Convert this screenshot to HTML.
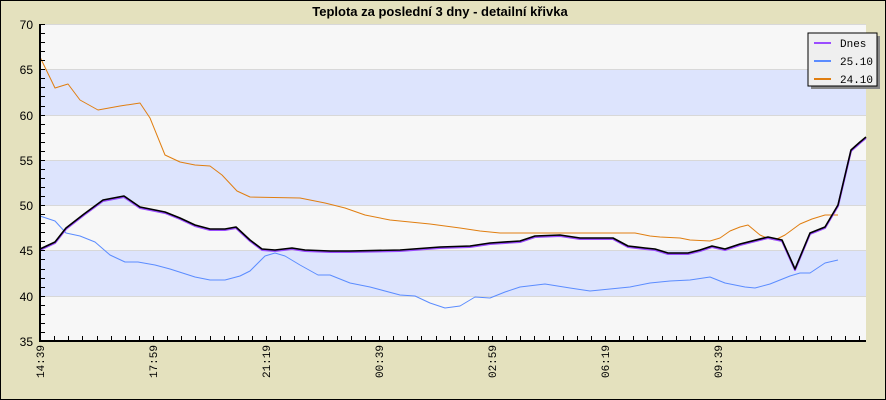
<!DOCTYPE html>
<html><head><meta charset="utf-8"><style>body{margin:0}svg{display:block}</style></head><body>
<svg width="886" height="400" xmlns="http://www.w3.org/2000/svg" font-family="Liberation Sans, DejaVu Sans, sans-serif">
<rect x="0.5" y="0.5" width="885" height="399" fill="#e4e1be" stroke="#000"/>
<text x="440" y="16" text-anchor="middle" font-size="13" font-weight="bold">Teplota za poslední 3 dny - detailní křivka</text>
<rect x="40" y="24" width="826" height="317" fill="#f7f7f7"/>
<rect x="40" y="69" width="826" height="46" fill="#dde4fd"/>
<rect x="40" y="160" width="826" height="45" fill="#dde4fd"/>
<rect x="40" y="251" width="826" height="45" fill="#dde4fd"/>
<g stroke="#d8d8d8" stroke-width="1">
<line x1="40" x2="866" y1="69.5" y2="69.5"/><line x1="40" x2="866" y1="115.5" y2="115.5"/><line x1="40" x2="866" y1="160.5" y2="160.5"/><line x1="40" x2="866" y1="205.5" y2="205.5"/><line x1="40" x2="866" y1="250.5" y2="250.5"/><line x1="40" x2="866" y1="296.5" y2="296.5"/><line x1="40" x2="866" y1="24.5" y2="24.5"/>
</g>
<g fill="none" stroke-linejoin="round">
<polyline stroke="#e07e10" stroke-width="1" points="40,57 55,88 68,84 80,100 98,110 120,106 140,103 150,118 165,155 180,162 195,165 210,166 222,175 237,191 250,197 300,198 325,203 345,208 365,215 390,220 430,224 460,228 480,231 500,233 540,233 600,233 635,233 650,236 660,237 680,238 690,240 710,241 720,238 730,231 740,227 748,225 760,235 767,238 775,240 785,235 800,224 812,219 825,215 838,215"/>
<polyline stroke="#5b8cff" stroke-width="1" points="40,216 55,221 66,233 80,236 95,242 110,255 125,262 138,262 155,265 170,269 195,277 210,280 225,280 240,276 250,271 265,256 275,253 285,256 300,265 318,275 330,275 350,283 370,287 400,295 415,296 430,303 445,308 460,306 475,297 490,298 505,292 520,287 545,284 570,288 590,291 610,289 630,287 650,283 670,281 690,280 710,277 725,283 745,287 755,288 770,284 790,276 800,273 810,273 825,263 838,260"/>
<g id="d">
<polyline stroke="#9b4dff" stroke-width="2" transform="translate(0,1)" points="40,249 55,242 66,228 84,214 103,200 124,196 140,207 150,209 165,212 180,218 195,225 210,229 225,229 236,227 250,240 262,249 275,250 292,248 305,250 330,251 350,251 400,250 440,247 470,246 490,243 520,241 535,236 560,235 580,238 600,238 613,238 628,246 645,248 655,249 668,253 688,253 700,250 712,246 725,249 740,244 768,237 782,240 795,269 810,233 825,227 838,205 851,150 860,142 866,137"/>
<polyline stroke="#000" stroke-width="1.6" points="40,249 55,242 66,228 84,214 103,200 124,196 140,207 150,209 165,212 180,218 195,225 210,229 225,229 236,227 250,240 262,249 275,250 292,248 305,250 330,251 350,251 400,250 440,247 470,246 490,243 520,241 535,236 560,235 580,238 600,238 613,238 628,246 645,248 655,249 668,253 688,253 700,250 712,246 725,249 740,244 768,237 782,240 795,269 810,233 825,227 838,205 851,150 860,142 866,137"/>
</g>
</g>
<g stroke="#000">
<line x1="40" y1="24" x2="40" y2="342" stroke-width="2"/>
<line x1="39" y1="341" x2="866" y2="341" stroke-width="2"/>
</g>
<g id="yt" stroke="#000" stroke-width="1"></g>
<g id="xt" stroke="#000" stroke-width="1"></g>
<g font-size="12" text-anchor="end" fill="#000">
<text x="33" y="29">70</text><text x="33" y="74">65</text><text x="33" y="120">60</text><text x="33" y="165">55</text><text x="33" y="210">50</text><text x="33" y="255">45</text><text x="33" y="301">40</text><text x="33" y="346">35</text>
</g>
<g font-size="11" font-family="Liberation Mono, DejaVu Sans Mono, monospace" text-anchor="end" fill="#000">
<text transform="translate(44,345) rotate(-90)">14:39</text>
<text transform="translate(157,345) rotate(-90)">17:59</text>
<text transform="translate(270,345) rotate(-90)">21:19</text>
<text transform="translate(383,345) rotate(-90)">00:39</text>
<text transform="translate(496,345) rotate(-90)">02:59</text>
<text transform="translate(609,345) rotate(-90)">06:19</text>
<text transform="translate(722,345) rotate(-90)">09:39</text>
</g>
<rect x="811" y="36" width="69" height="53" fill="#888"/>
<rect x="808" y="33" width="69" height="53" fill="#efefef" stroke="#000"/>
<line x1="814" y1="43" x2="831" y2="43" stroke="#9b4dff" stroke-width="2"/>
<line x1="814" y1="61" x2="831" y2="61" stroke="#5b8cff" stroke-width="2"/>
<line x1="814" y1="79" x2="831" y2="79" stroke="#e07e10" stroke-width="2"/>
<g font-size="11" font-family="Liberation Mono, DejaVu Sans Mono, monospace" fill="#000">
<text x="840" y="47">Dnes</text><text x="840" y="65">25.10</text><text x="840" y="83">24.10</text>
</g>
<script>
var yt=document.getElementById('yt'),xt=document.getElementById('xt'),ns='http://www.w3.org/2000/svg';
for(var i=0;i<=35;i++){var y=Math.round(341-i*317/35)+0.5;var l=document.createElementNS(ns,'line');l.setAttribute('x1',40);l.setAttribute('x2',45);l.setAttribute('y1',y);l.setAttribute('y2',y);yt.appendChild(l);}
for(var x=40;x<866;x+=14.125){var X=Math.round(x)+0.5;var l=document.createElementNS(ns,'line');l.setAttribute('x1',X);l.setAttribute('x2',X);l.setAttribute('y1',336);l.setAttribute('y2',341);xt.appendChild(l);}
</script>
</svg>
</body></html>
